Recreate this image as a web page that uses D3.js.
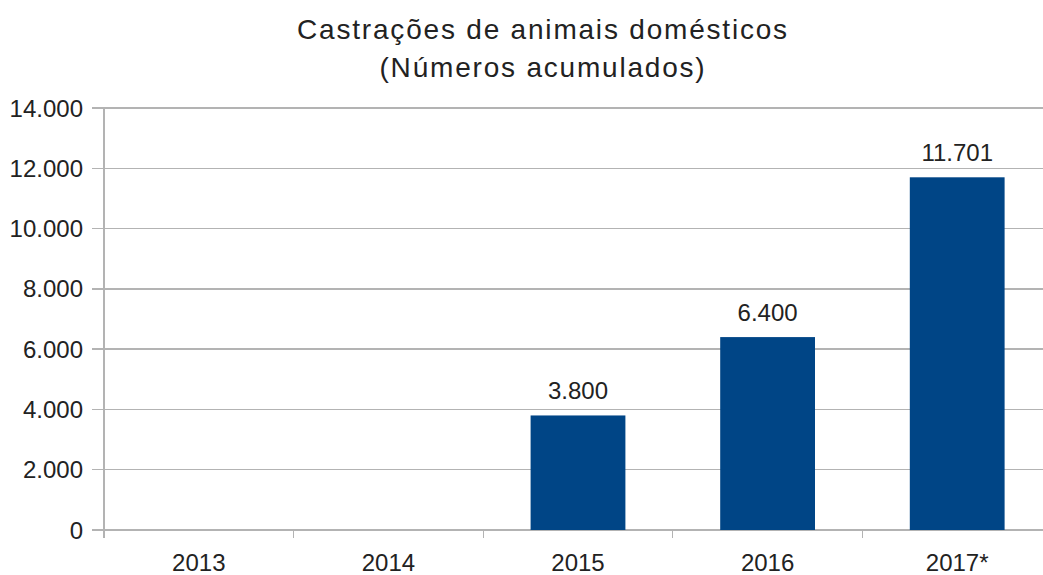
<!DOCTYPE html>
<html lang="pt">
  <head>
    <meta charset="UTF-8" />
    <title>Castrações de animais domésticos</title>
    <script src="https://d3js.org/d3.v7.min.js"></script>
    <style>
      body {
        margin: 0;
        background: #fff;
        font-family: 'Liberation Sans', Arial, sans-serif;
      }
      .grid line,
      .axis line,
      .axis path {
        stroke: #b3b3b3;
        stroke-width: 1.3px;
        shape-rendering: crispEdges;
      }
      text {
        fill: #222;
      }
    </style>
  </head>
  <body>
    <svg width="1043" height="575"></svg>
    <script>
      const years = ['2013', '2014', '2015', '2016', '2017*'];
      const values = [0, 0, 3800, 6400, 11701];
      const yTicks = [0, 2000, 4000, 6000, 8000, 10000, 12000, 14000];

      const svg = d3.select('svg');
      const plotLeft = 104;
      const plotRight = 1052;
      const plotTop = 108;
      const plotBottom = 530;

      const fmt = (v) => d3.format(',')(v).replace(/,/g, '.');

      const x = d3.scaleBand().domain(years).range([plotLeft, plotRight]).paddingInner(0.5).paddingOuter(0.25);
      const y = d3.scaleLinear().domain([0, 14000]).range([plotBottom, plotTop]);

      // horizontal grid lines
      svg
        .append('g')
        .attr('class', 'grid')
        .selectAll('line')
        .data(yTicks)
        .join('line')
        .attr('x1', plotLeft - 12)
        .attr('x2', plotRight)
        .attr('y1', (d) => y(d))
        .attr('y2', (d) => y(d));

      // y axis line
      svg
        .append('g')
        .attr('class', 'axis')
        .append('line')
        .attr('x1', plotLeft)
        .attr('x2', plotLeft)
        .attr('y1', plotTop)
        .attr('y2', plotBottom + 8);

      svg
        .append('g')
        .selectAll('text')
        .data(yTicks)
        .join('text')
        .attr('x', plotLeft - 21)
        .attr('y', (d) => y(d))
        .attr('dy', '0.36em')
        .attr('text-anchor', 'end')
        .style('font-size', '24px')
        .text((d) => fmt(d));

      // category separators below the axis
      const step = (plotRight - plotLeft) / years.length;
      svg
        .append('g')
        .attr('class', 'axis')
        .selectAll('line')
        .data(d3.range(years.length + 1))
        .join('line')
        .attr('x1', (i) => plotLeft + i * step)
        .attr('x2', (i) => plotLeft + i * step)
        .attr('y1', plotBottom)
        .attr('y2', plotBottom + 8);

      svg
        .append('g')
        .selectAll('text')
        .data(years)
        .join('text')
        .attr('x', (d) => x(d) + x.bandwidth() / 2)
        .attr('y', 571)
        .attr('text-anchor', 'middle')
        .style('font-size', '24px')
        .text((d) => d);

      const bars = years.map((d, i) => ({ year: d, value: values[i] })).filter((d) => d.value > 0);

      svg
        .append('g')
        .selectAll('rect')
        .data(bars)
        .join('rect')
        .attr('x', (d) => x(d.year))
        .attr('y', (d) => y(d.value))
        .attr('width', x.bandwidth())
        .attr('height', (d) => plotBottom - y(d.value))
        .attr('fill', '#004586');

      svg
        .append('g')
        .selectAll('text')
        .data(bars)
        .join('text')
        .attr('x', (d) => x(d.year) + x.bandwidth() / 2)
        .attr('y', (d) => y(d.value) - 16)
        .attr('text-anchor', 'middle')
        .style('font-size', '24px')
        .text((d) => fmt(d.value));

      const title = svg
        .append('text')
        .attr('x', 543)
        .attr('y', 39)
        .attr('text-anchor', 'middle')
        .style('font-size', '28px')
        .style('letter-spacing', '1.8px');
      title.append('tspan').attr('x', 543).text('Castrações de animais domésticos');
      title.append('tspan').attr('x', 543).attr('dy', 38).text('(Números acumulados)');
    </script>
  </body>
</html>
